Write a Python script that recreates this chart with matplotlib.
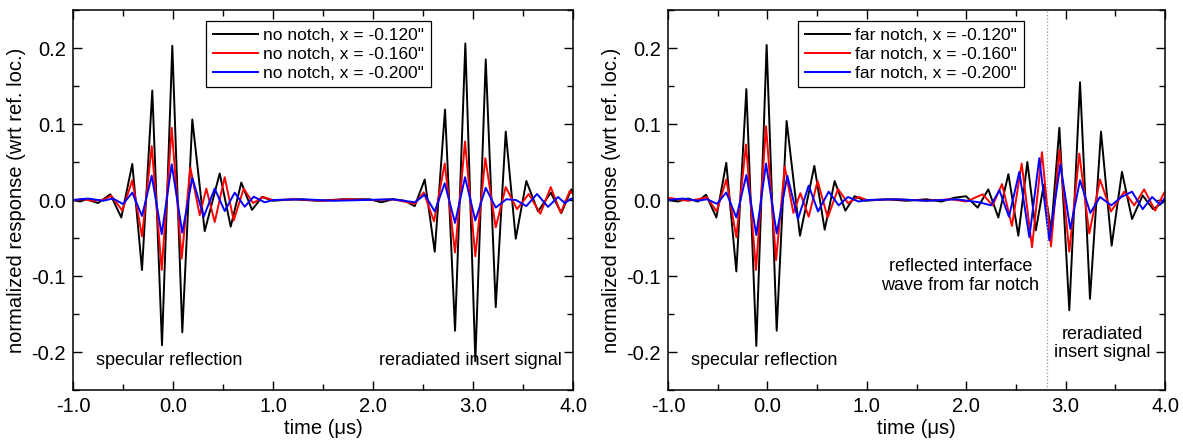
import matplotlib
matplotlib.use('Agg')
import matplotlib.pyplot as plt
from matplotlib.ticker import MultipleLocator, FormatStrFormatter

plt.rcParams['font.family'] = ['Liberation Sans', 'DejaVu Sans']
plt.rcParams['font.size'] = 14.5

# ---- left panel: no notch ----
nn120_t = [-1.0, -0.93, -0.867, -0.75, -0.627, -0.517, -0.407, -0.31, -0.207, -0.11, -0.007, 0.093, 0.193,
           0.317, 0.467, 0.577, 0.683, 0.79, 0.89, 1.0, 1.2, 1.45, 1.7, 1.967, 2.083, 2.2, 2.317, 2.417, 2.517,
           2.617, 2.72, 2.82, 2.923, 3.023, 3.127, 3.227, 3.327, 3.427, 3.533, 3.65, 3.777, 3.883, 3.983, 4.0]
nn120_v = [0.0, -0.002, 0.001, -0.004, 0.0075, -0.023, 0.0475, -0.092, 0.144, -0.191, 0.203, -0.174, 0.106,
           -0.041, 0.035, -0.035, 0.023, -0.013, 0.004, -0.001, 0.001, -0.001, 0.001, 0.001, -0.003, 0.001, -0.001,
           -0.008, 0.027, -0.068, 0.119, -0.172, 0.206, -0.212, 0.185, -0.141, 0.090, -0.051, 0.025, -0.015,
           0.0097, -0.017, 0.014, 0.008]

nn160_t = [-1.0, -0.9, -0.8, -0.7, -0.617, -0.507, -0.407, -0.31, -0.213, -0.113, -0.013, 0.087, 0.173, 0.267,
           0.333, 0.417, 0.517, 0.607, 0.707, 0.8, 0.9, 1.0, 1.25, 1.5, 1.75, 2.0, 2.2, 2.417, 2.507, 2.61, 2.717,
           2.82, 2.92, 3.023, 3.123, 3.227, 3.327, 3.44, 3.557, 3.673, 3.777, 3.877, 3.967, 4.0]
nn160_v = [0.0, 0.001, -0.001, 0.0, 0.0057, -0.014, 0.026, -0.048, 0.071, -0.092, 0.095, -0.077, 0.043, -0.020,
           0.015, -0.029, 0.030, -0.027, 0.015, -0.004, 0.004, 0.0, 0.001, -0.001, 0.001, 0.0, 0.001, -0.005, 0.010,
           -0.028, 0.048, -0.069, 0.077, -0.074, 0.055, -0.036, 0.017, -0.012, 0.008, -0.018, 0.017, -0.017, 0.012,
           0.008]

nn200_t = [-1.0, -0.85, -0.7, -0.6, -0.5, -0.407, -0.31, -0.213, -0.113, -0.013, 0.093, 0.193, 0.307, 0.417,
           0.517, 0.617, 0.717, 0.807, 0.917, 1.0, 1.3, 1.6, 1.9, 2.2, 2.417, 2.517, 2.617, 2.717, 2.82, 2.92,
           3.023, 3.127, 3.227, 3.333, 3.43, 3.533, 3.64, 3.75, 3.85, 3.917, 3.983, 4.0]
nn200_v = [0.0, 0.002, -0.001, 0.002, -0.0053, 0.0097, -0.021, 0.032, -0.045, 0.047, -0.043, 0.029, -0.022, 0.015,
           -0.0145, 0.0097, -0.0088, 0.0044, -0.003, 0.0, 0.001, -0.001, 0.0, 0.001, -0.003, 0.007, -0.015, 0.022,
           -0.030, 0.030, -0.027, 0.016, -0.010, 0.001, 0.0, -0.008, 0.008, -0.009, 0.004, -0.004, 0.002, 0.0]

# ---- right panel: far notch ----
fn120_t = [-1.0, -0.9, -0.8, -0.7, -0.618, -0.514, -0.414, -0.313, -0.212, -0.112, -0.008, 0.093, 0.193, 0.327,
           0.472, 0.576, 0.676, 0.784, 0.877, 0.985, 1.2, 1.4, 1.6, 1.75, 1.88, 1.998, 2.115, 2.222, 2.323, 2.424,
           2.524, 2.615, 2.70, 2.78, 2.855, 2.937, 3.037, 3.145, 3.245, 3.356, 3.463, 3.567, 3.668, 3.775, 3.88,
           3.98, 4.0]
fn120_v = [0.0, -0.002, 0.002, -0.002, 0.007, -0.023, 0.049, -0.094, 0.146, -0.192, 0.204, -0.172, 0.104, -0.047,
           0.045, -0.039, 0.025, -0.014, 0.005, -0.001, 0.001, -0.001, 0.001, -0.002, 0.003, 0.005, -0.010, 0.014,
           -0.023, 0.034, -0.047, 0.050, -0.040, 0.020, -0.040, 0.095, -0.145, 0.155, -0.130, 0.090, -0.060, 0.037,
           -0.025, 0.006, -0.012, -0.003, 0.0]

fn160_t = [-1.0, -0.9, -0.8, -0.7, -0.608, -0.511, -0.414, -0.313, -0.216, -0.115, -0.014, 0.087, 0.174, 0.261,
           0.331, 0.415, 0.505, 0.606, 0.71, 0.81, 0.918, 1.0, 1.3, 1.6, 1.85, 2.0, 2.165, 2.266, 2.36, 2.46,
           2.558, 2.662, 2.762, 2.853, 2.937, 3.037, 3.138, 3.238, 3.346, 3.456, 3.59, 3.69, 3.79, 3.90, 3.993, 4.0]
fn160_v = [0.003, 0.001, -0.001, 0.001, 0.0035, -0.015, 0.027, -0.049, 0.073, -0.092, 0.097, -0.079, 0.044, -0.017,
           0.009, -0.022, 0.025, -0.023, 0.0145, -0.004, 0.004, 0.0, 0.001, -0.001, 0.001, -0.002, 0.0075, -0.007,
           0.021, -0.034, 0.048, -0.062, 0.063, -0.061, 0.066, -0.068, 0.061, -0.044, 0.027, -0.015, 0.011, -0.007,
           0.014, -0.014, 0.010, 0.009]

fn200_t = [-1.0, -0.85, -0.7, -0.608, -0.507, -0.414, -0.313, -0.212, -0.112, -0.014, 0.093, 0.2, 0.307, 0.415,
           0.509, 0.616, 0.717, 0.81, 0.918, 1.0, 1.3, 1.6, 1.9, 2.132, 2.25, 2.333, 2.43, 2.534, 2.635, 2.735,
           2.836, 2.947, 3.047, 3.145, 3.248, 3.346, 3.46, 3.56, 3.668, 3.775, 3.87, 3.95, 4.0]
fn200_v = [0.0, 0.002, -0.001, 0.001, -0.005, 0.010, -0.023, 0.033, -0.046, 0.048, -0.044, 0.032, -0.025, 0.019,
           -0.015, 0.011, -0.007, 0.004, -0.002, 0.0, 0.001, -0.001, 0.001, -0.003, -0.007, 0.013, -0.022, 0.037,
           -0.049, 0.055, -0.053, 0.047, -0.038, 0.026, -0.017, 0.004, -0.007, 0.004, 0.011, -0.012, 0.004, -0.006,
           0.003]

left_labels = ['no notch, x = -0.120"', 'no notch, x = -0.160"', 'no notch, x = -0.200"']
right_labels = ['far notch, x = -0.120"', 'far notch, x = -0.160"', 'far notch, x = -0.200"']
colors = ['black', '#ff0000', '#0000ff']
notch_line = 2.81


def style_axes(ax):
    ax.set_xlim(-1.0, 4.0)
    ax.set_ylim(-0.25, 0.25)
    ax.xaxis.set_major_locator(MultipleLocator(1.0))
    ax.xaxis.set_minor_locator(MultipleLocator(0.5))
    ax.yaxis.set_major_locator(MultipleLocator(0.1))
    ax.yaxis.set_minor_locator(MultipleLocator(0.05))
    ax.xaxis.set_major_formatter(FormatStrFormatter('%.1f'))
    ax.yaxis.set_major_formatter(FormatStrFormatter('%.1f'))
    ax.tick_params(which='both', direction='in', top=True, right=True, width=1.0)
    ax.tick_params(which='major', length=6.5, pad=5)
    ax.tick_params(which='minor', length=4)
    for s in ax.spines.values():
        s.set_linewidth(1.1)
    ax.set_xlabel('time (\u03bcs)', labelpad=2)
    ax.set_ylabel('normalized response (wrt ref. loc.)', labelpad=4)


fig = plt.figure(figsize=(11.83, 4.42), dpi=100)
ax1 = fig.add_axes([0.0617, 0.1176, 0.4227, 0.8597])
ax2 = fig.add_axes([0.5647, 0.1176, 0.4201, 0.8597])

for tt, vv, c, lab in zip([nn120_t, nn160_t, nn200_t], [nn120_v, nn160_v, nn200_v], colors, left_labels):
    ax1.plot(tt, vv, color=c, lw=1.4, label=lab)
for tt, vv, c, lab in zip([fn120_t, fn160_t, fn200_t], [fn120_v, fn160_v, fn200_v], colors, right_labels):
    ax2.plot(tt, vv, color=c, lw=1.4, label=lab)

ax2.axvline(notch_line, color='#999999', lw=0.9, ls=':')

for ax in (ax1, ax2):
    style_axes(ax)
    leg = ax.legend(loc='upper right', bbox_to_anchor=(0.716, 0.971), fontsize=12.5, frameon=True,
                    fancybox=False, framealpha=1, edgecolor='black', borderaxespad=0, handlelength=2.6,
                    handletextpad=0.3, labelspacing=0.22, borderpad=0.38)
    leg.get_frame().set_linewidth(0.9)

ax1.text(-0.035, -0.211, 'specular reflection', ha='center', va='center', fontsize=13)
ax1.text(2.97, -0.211, 'reradiated insert signal', ha='center', va='center', fontsize=13)
ax2.text(-0.031, -0.211, 'specular reflection', ha='center', va='center', fontsize=13)
ax2.text(1.94, -0.10, 'reflected interface\nwave from far notch', ha='center', va='center', linespacing=1.1,
         fontsize=13)
ax2.text(3.37, -0.189, 'reradiated\ninsert signal', ha='center', va='center', linespacing=1.1, fontsize=13)

fig.savefig('out.png', dpi=100)
